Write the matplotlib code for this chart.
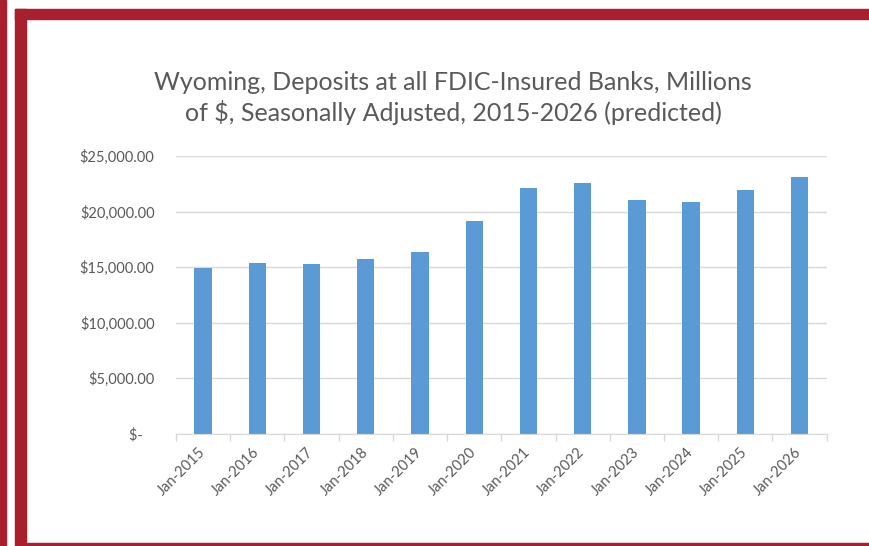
import matplotlib.pyplot as plt
from matplotlib.patches import Rectangle
import numpy as np

# Data
years = ['Jan-2015', 'Jan-2016', 'Jan-2017', 'Jan-2018', 'Jan-2019', 'Jan-2020',
         'Jan-2021', 'Jan-2022', 'Jan-2023', 'Jan-2024', 'Jan-2025', 'Jan-2026']
deposits = [14910, 15360, 15300, 15720, 16350, 19150,
            22130, 22610, 21010, 20870, 21950, 23120]
y_ticks = [0, 5000, 10000, 15000, 20000, 25000]
y_labels = ['$-   ', '$5,000.00', '$10,000.00', '$15,000.00', '$20,000.00', '$25,000.00']

plt.rcParams['font.family'] = ['Lato', 'DejaVu Sans']
red = '#a81f2d'
gray_text = '#595959'
grid_col = '#d9d9d9'

fig = plt.figure(figsize=(8.7, 5.46), dpi=100)
W, H = 870, 546

# Red frame around the page
def px_rect(x0, y0, x1, y1):
    fig.patches.append(Rectangle((x0 / W, 1 - y1 / H), (x1 - x0) / W, (y1 - y0) / H,
                                 transform=fig.transFigure, color=red, zorder=0))

px_rect(0, 0, 6, 546)
px_rect(15, 9, 26, 546)
px_rect(15, 9, 870, 19)
px_rect(26, 543, 870, 544.5)

ax = fig.add_axes([176 / W, 1 - 433.5 / H, (826.6 - 176) / W, (433.5 - 156) / H])
x = np.arange(len(years))
ax.bar(x, deposits, width=0.32, color='#5b9bd5', zorder=2)

ax.set_xlim(-0.5, len(years) - 0.5)
ax.set_ylim(0, 25000)
ax.set_yticks(y_ticks)
ax.set_yticklabels(y_labels, fontsize=10.5, color=gray_text)
ax.tick_params(axis='y', length=0, pad=15.5)
ax.yaxis.grid(True, color=grid_col, linewidth=1, zorder=0)

ax.set_xticks(x)
ax.set_xticklabels(years, rotation=45, ha='right', va='center',
                   rotation_mode='anchor', fontsize=10.5, color=gray_text)
ax.tick_params(axis='x', length=0, pad=12)
ax.set_xticks(np.arange(-0.5, len(years), 1), minor=True)
ax.tick_params(axis='x', which='minor', length=5, color=grid_col, width=1)

for s in ['top', 'right', 'left']:
    ax.spines[s].set_visible(False)
ax.spines['bottom'].set_color(grid_col)

fig.text(453 / W, 1 - 98 / H,
         'Wyoming, Deposits at all FDIC-Insured Banks, Millions\n'
         'of $, Seasonally Adjusted, 2015-2026 (predicted)',
         ha='center', va='center', fontsize=18, color=gray_text, linespacing=1.25)

fig.savefig('out.png', dpi=100)
